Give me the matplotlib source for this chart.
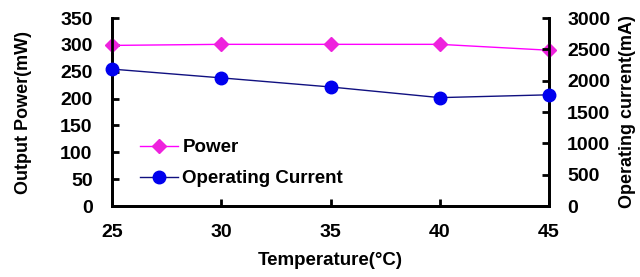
import matplotlib
matplotlib.use('Agg')
import matplotlib.pyplot as plt

temps = [25, 30, 35, 40, 45]
power_mw = [299, 301, 301, 301, 290]
current_ma = [2185, 2045, 1900, 1730, 1775]

left_ticks = [0, 50, 100, 150, 200, 250, 300, 350]
right_ticks = [0, 500, 1000, 1500, 2000, 2500, 3000]

plt.rcParams['font.family'] = ['Liberation Sans', 'DejaVu Sans']
plt.rcParams['font.weight'] = 'bold'

fig = plt.figure(figsize=(6.4, 2.77), dpi=100)
ax = fig.add_axes([0.175, 0.256, 0.683, 0.679])
ax2 = ax.twinx()

l1, = ax.plot(temps, power_mw, color='#ff00ff', lw=1, marker='D',
              markersize=7, markerfacecolor='#ee22dd', markeredgecolor='#ee22dd',
              label='Power', zorder=3, clip_on=False)
l2, = ax2.plot(temps, current_ma, color='#101080', lw=1, marker='o',
               markersize=9, markerfacecolor='#0000ee', markeredgecolor='#0000ee',
               label='Operating Current', zorder=3, clip_on=False)

ax.set_xlim(25, 45)
ax.set_ylim(0, 350)
ax2.set_ylim(0, 3000)
ax.set_xticks(temps)
ax.set_yticks(left_ticks)
ax2.set_yticks(right_ticks)

# spines: left, bottom, right in black, no top
for a in (ax, ax2):
    for s in a.spines.values():
        s.set_linewidth(2)
        s.set_color('black')
        s.set_visible(True)
    a.spines['top'].set_visible(False)

ax.tick_params(axis='y', direction='in', length=5, width=2, pad=14, labelsize=14,
               color='black')
ax.tick_params(axis='x', direction='in', length=5, width=2, pad=13, labelsize=14,
               color='black')
ax2.tick_params(axis='y', direction='in', length=5, width=2, pad=13, labelsize=14,
                color='black')

ax.set_ylabel('Output Power(mW)', fontsize=13, fontweight='bold', labelpad=20)
ax2.set_ylabel('Operating current(mA)', fontsize=13, fontweight='bold', labelpad=6)
ax.set_xlabel('Temperature(\u00b0C)', fontsize=13.5, fontweight='bold', labelpad=8)

ax.legend(handles=[l1, l2], loc='lower left', bbox_to_anchor=(0.026, 0.01),
          frameon=False, fontsize=13.5, handlelength=2.0, handletextpad=0.25,
          labelspacing=0.75)

fig.savefig('out.png', dpi=100)
